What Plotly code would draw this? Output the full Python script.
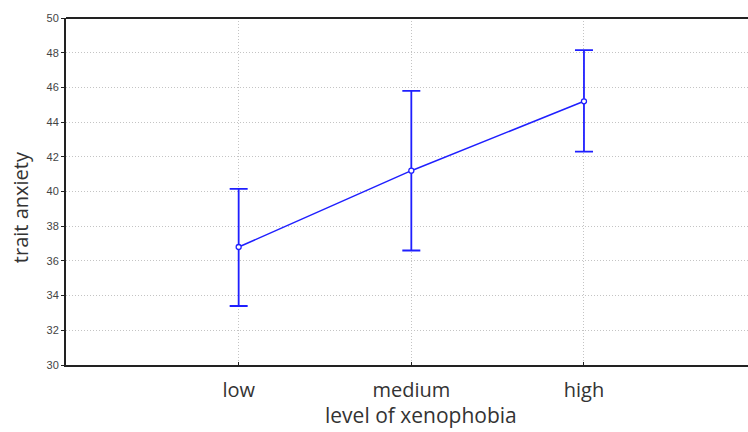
import plotly.graph_objects as go

categories = ["low", "medium", "high"]
means = [36.8, 41.2, 45.2]
upper = [40.15, 45.8, 48.15]
lower = [33.4, 36.6, 42.3]
y_ticks = [30, 32, 34, 36, 38, 40, 42, 44, 46, 48, 50]

x_pos = list(range(len(categories)))
err_plus = [u - m for u, m in zip(upper, means)]
err_minus = [m - l for m, l in zip(means, lower)]

fig = go.Figure()
fig.add_trace(go.Scatter(
    x=x_pos, y=means, mode="lines+markers",
    line=dict(color="#1f1fff", width=1.5),
    marker=dict(symbol="circle", size=5, color="white", line=dict(width=1.3, color="#1f1fff")),
    error_y=dict(type="data", symmetric=False, array=err_plus, arrayminus=err_minus,
                 color="#1f1fff", thickness=1.8, width=9),
    showlegend=False,
))

fig.update_layout(
    width=748, height=432,
    margin=dict(l=66, r=0, t=18, b=67, autoexpand=False),
    plot_bgcolor="white", paper_bgcolor="white",
    xaxis=dict(
        range=[-1.0, 2.95], tickmode="array", tickvals=x_pos, ticktext=categories,
        showgrid=True, gridcolor="#c4c4c4", griddash="1px,2px", gridwidth=1,
        showline=True, linecolor="#222", linewidth=2, mirror=False,
        ticks="inside", ticklen=3, tickcolor="#222",
        tickfont=dict(family="Open Sans, sans-serif", size=20, color="#333"),
        ticklabelstandoff=6, zeroline=False, automargin=False,
    ),
    yaxis=dict(
        range=[30, 50], tickmode="array", tickvals=y_ticks,
        showgrid=True, gridcolor="#c4c4c4", griddash="1px,2px", gridwidth=1,
        showline=True, linecolor="#222", linewidth=2,
        ticks="outside", ticklen=3, tickcolor="#222",
        tickfont=dict(family="Liberation Sans Narrow, Arial, sans-serif", size=11, color="#444"),
        zeroline=False, automargin=False,
    ),
    shapes=[dict(type="line", xref="paper", yref="paper", x0=0, x1=1, y0=1, y1=1,
                 line=dict(color="#222", width=2))],
    annotations=[
        dict(text="level of xenophobia", xref="paper", yref="paper",
             x=0.52, y=-0.19, xanchor="center", yanchor="bottom", showarrow=False,
             font=dict(family="Open Sans, sans-serif", size=21, color="#333")),
        dict(text="trait anxiety", xref="paper", yref="paper", textangle=-90,
             x=-0.0674, y=0.455, xanchor="center", yanchor="middle", showarrow=False,
             font=dict(family="Open Sans, sans-serif", size=20, color="#333")),
    ],
)

fig.write_html("out.html", config={"displayModeBar": False},
               post_script="document.body.style.margin='0';document.body.style.overflow='hidden';")
